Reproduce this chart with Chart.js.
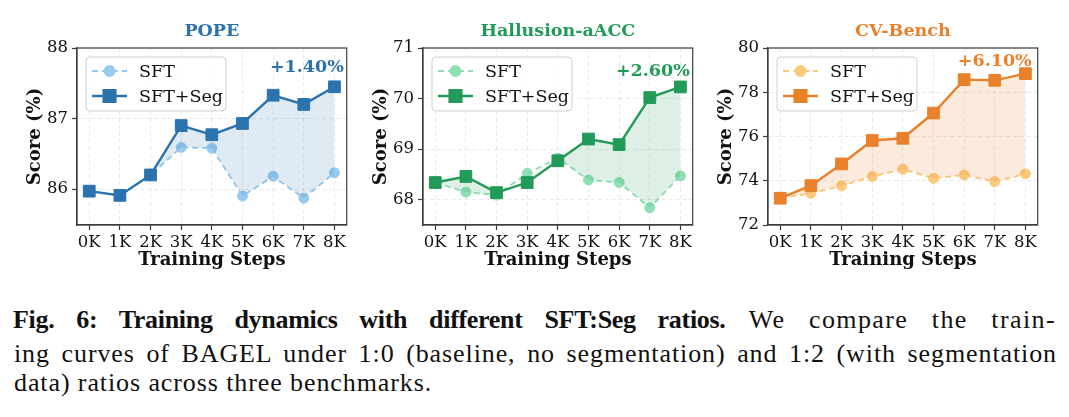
<!DOCTYPE html>
<html>
<head>
<meta charset="utf-8">
<script src="https://cdn.jsdelivr.net/npm/chart.js@4.4.1/dist/chart.umd.min.js"></script>
<style>
  body { margin: 0; background: #fff; width: 1069px; height: 417px; overflow: hidden; position: relative; }
  .panel { position: absolute; top: 0; width: 356px; height: 280px; }
  .cap { position: absolute; font-family: "Liberation Serif", serif; font-size: 26px;
         line-height: 30px; white-space: nowrap; color: #111; letter-spacing: 0.9px; }
  #l1 b { letter-spacing: -0.3px; }
  #l1 span { letter-spacing: 1.4px; }
</style>
</head>
<body>
<div class="panel" style="left:0px"><canvas id="pope" width="356" height="280"></canvas></div>
<div class="panel" style="left:346px"><canvas id="hall" width="356" height="280"></canvas></div>
<div class="panel" style="left:691px"><canvas id="cv" width="356" height="280"></canvas></div>

<div class="cap" id="l1" style="top:305px;left:13px"><b>Fig. 6: Training dynamics with different SFT:Seg ratios.</b><span> We compare the train-</span></div>
<div class="cap" id="l2" style="top:339px;left:14px">ing curves of BAGEL under 1:0 (baseline, no segmentation) and 1:2 (with segmentation</div>
<div class="cap" id="l3" style="top:368px;left:14px">data) ratios across three benchmarks.</div>

<script>
// data
const steps = [0, 1, 2, 3, 4, 5, 6, 7, 8];
const stepLabels = ['0K', '1K', '2K', '3K', '4K', '5K', '6K', '7K', '8K'];

const popeSft = [85.97, 85.91, 86.20, 86.59, 86.58, 85.90, 86.18, 85.87, 86.23];
const popeSeg = [85.97, 85.91, 86.20, 86.90, 86.77, 86.93, 87.33, 87.20, 87.45];
const hallSft = [68.34, 68.15, 68.09, 68.52, 68.82, 68.39, 68.34, 67.84, 68.47];
const hallSeg = [68.34, 68.46, 68.14, 68.34, 68.77, 69.20, 69.09, 70.02, 70.23];
const cvSft = [73.21, 73.43, 73.77, 74.19, 74.52, 74.11, 74.26, 73.96, 74.31];
const cvSeg = [73.21, 73.78, 74.76, 75.82, 75.92, 77.06, 78.57, 78.54, 78.84];

const popeTicks = [86, 87, 88];
const hallTicks = [68, 69, 70, 71];
const cvTicks = [72, 74, 76, 78, 80];

const titles = ['POPE', 'Hallusion-aACC', 'CV-Bench'];
const gains = ['+1.40%', '+2.60%', '+6.10%'];

const SERIF = '"DejaVu Serif", serif';

// frame, legend box and the gain label
const panelDeco = {
  id: 'panelDeco',
  afterDatasetsDraw(chart, args, opts) {
    const { ctx, chartArea: a, scales: { x, y } } = chart;
    ctx.save();
    ctx.strokeStyle = '#3c3c3c';
    ctx.lineWidth = 1.2;
    ctx.strokeRect(a.left, a.top, a.width, a.height);

    ctx.font = 'bold 17.5px ' + SERIF;
    ctx.fillStyle = opts.color;
    ctx.textAlign = 'center';
    ctx.textBaseline = 'middle';
    ctx.fillText(opts.gain, x.getPixelForValue(opts.gainAt[0]), y.getPixelForValue(opts.gainAt[1]));

    // legend
    const lx = a.left + 9, ly = a.top + 9;
    ctx.beginPath();
    ctx.roundRect(lx, ly, 140, 54, 4);
    ctx.fillStyle = 'rgba(255,255,255,0.85)';
    ctx.fill();
    ctx.strokeStyle = '#cfcfcf';
    ctx.lineWidth = 1;
    ctx.stroke();
    chart.data.datasets.forEach((ds, i) => {
      const cy = ly + 14 + i * 25;
      ctx.beginPath();
      ctx.setLineDash(ds.borderDash || []);
      ctx.strokeStyle = ds.borderColor;
      ctx.lineWidth = ds.borderWidth;
      ctx.moveTo(lx + 6, cy);
      ctx.lineTo(lx + 41, cy);
      ctx.stroke();
      ctx.setLineDash([]);
      ctx.fillStyle = ds.pointBackgroundColor;
      ctx.strokeStyle = ds.pointBorderColor;
      Chart.helpers.drawPoint(ctx, { pointStyle: ds.pointStyle, radius: ds.pointRadius, borderWidth: 1, rotation: 0 }, lx + 23.5, cy);
      ctx.fillStyle = '#111';
      ctx.font = '17.5px ' + SERIF;
      ctx.textAlign = 'left';
      ctx.fillText(ds.label, lx + 53, cy + 1);
    });
    ctx.restore();
  }
};

function makePanel(id, title, sft, seg, yTicks, yMin, yMax, dark, light, fillCol, gain, gainAt) {
  const pts = arr => steps.map((s, i) => ({ x: s, y: arr[i] }));
  new Chart(document.getElementById(id), {
    type: 'line',
    data: {
      datasets: [
        {
          label: 'SFT', data: pts(sft), order: 1, fill: false,
          borderColor: light, borderWidth: 1.8, borderDash: [6, 4],
          pointStyle: 'circle', pointRadius: 5, pointBorderWidth: 1,
          pointBackgroundColor: light, pointBorderColor: light
        },
        {
          label: 'SFT+Seg', data: pts(seg), order: 0,
          fill: { target: 0, above: fillCol, below: 'transparent' },
          borderColor: dark, borderWidth: 2.4,
          pointStyle: 'rect', pointRadius: 8.3, pointBorderWidth: 1,
          pointBackgroundColor: dark, pointBorderColor: dark
        }
      ]
    },
    options: {
      responsive: false,
      animation: false,
      devicePixelRatio: 1,
      layout: { padding: { left: 0, right: 8, top: 0, bottom: 5 } },
      plugins: {
        legend: { display: false },
        tooltip: { enabled: false },
        title: {
          display: true, text: title, color: dark, fullSize: false,
          font: { family: SERIF, size: 17.5, weight: 'bold' },
          padding: { top: 21, bottom: 6 }
        },
        panelDeco: { color: dark, gain: gain, gainAt: gainAt }
      },
      scales: {
        x: {
          type: 'linear', min: -0.4, max: 8.4,
          afterBuildTicks: s => { s.ticks = steps.map(v => ({ value: v })); },
          afterFit: s => { s.height = 50; },
          ticks: {
            callback: v => stepLabels[steps.indexOf(v)],
            font: { family: SERIF, size: 16.5 }, color: '#111', padding: 3,
            maxRotation: 0, autoSkip: false
          },
          grid: { color: 'rgba(0,0,0,0.11)', lineWidth: 0.8, tickLength: 5, tickColor: '#3c3c3c', tickWidth: 1.2 },
          border: { color: '#3c3c3c', width: 1.2, dash: [4, 3] },
          title: {
            display: true, text: 'Training Steps', color: '#111',
            font: { family: SERIF, size: 18, weight: 'bold' }, padding: { top: 0, bottom: 4 }
          }
        },
        y: {
          type: 'linear', min: yMin, max: yMax,
          afterBuildTicks: s => { s.ticks = yTicks.map(v => ({ value: v })); },
          afterFit: s => { s.width = 77; },
          ticks: { callback: v => String(v), font: { family: SERIF, size: 16.5 }, color: '#111', padding: 4 },
          grid: { color: 'rgba(0,0,0,0.11)', lineWidth: 0.8, tickLength: 5, tickColor: '#3c3c3c', tickWidth: 1.2 },
          border: { color: '#3c3c3c', width: 1.2, dash: [4, 3] },
          title: {
            display: true, text: 'Score (%)', color: '#111',
            font: { family: SERIF, size: 18, weight: 'bold' }, padding: { top: 25, bottom: 0 }
          }
        }
      }
    },
    plugins: [panelDeco]
  });
}

// justify the first two caption lines by widening every space evenly
function fitCaption() {
  ['l1', 'l2'].forEach(id => {
    const el = document.getElementById(id);
    const w = el.getBoundingClientRect().width;
    const spaces = (el.textContent.match(/ /g) || []).length;
    el.style.wordSpacing = ((1043 - w) / spaces) + 'px';
  });
}

document.fonts.ready.then(() => {
  makePanel('pope', titles[0], popeSft, popeSeg, popeTicks, 85.49, 88,
    '#2a73ae', '#96caee', 'rgba(42,115,174,0.15)', gains[0], [7.1, 87.73]);
  makePanel('hall', titles[1], hallSft, hallSeg, hallTicks, 67.5, 71,
    '#229a58', '#8fdfb5', 'rgba(34,154,88,0.15)', gains[1], [7.1, 70.54]);
  makePanel('cv', titles[2], cvSft, cvSeg, cvTicks, 72, 80,
    '#e9812b', '#fbc97c', 'rgba(233,129,43,0.16)', gains[2], [7.0, 79.41]);
  fitCaption();
});
</script>
</body>
</html>
